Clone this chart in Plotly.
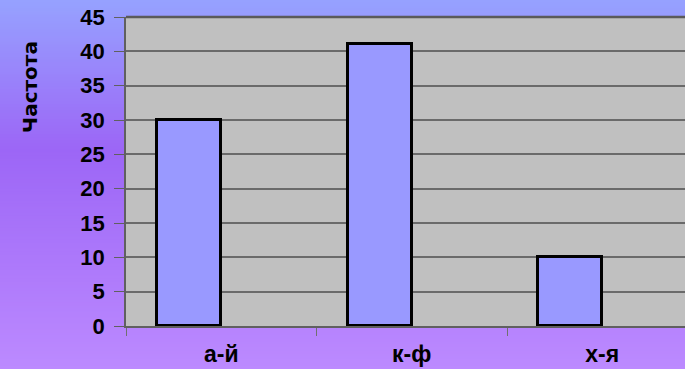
import plotly.graph_objects as go

categories = ["а-й", "к-ф", "х-я"]
values = [30, 41, 10]
y_ticks = [0, 5, 10, 15, 20, 25, 30, 35, 40, 45]
y_title = "Частота"

W, H = 685, 369
L, R, T, B = 126, 0, 17, 43
pw, ph = W - L - R, H - T - B


def px_to_paper_x(x):
    return (x - L) / pw


def px_to_paper_y(y):
    return (H - B - y) / ph


# vertical gradient background (styling)
stops = [(0, (150, 162, 255)), (150, (156, 102, 246)), (369, (188, 138, 255))]


def color_at(y):
    for (y0, c0), (y1, c1) in zip(stops[:-1], stops[1:]):
        if y0 <= y <= y1:
            t = (y - y0) / (y1 - y0)
            return "rgb(%d,%d,%d)" % tuple(round(a + (b - a) * t) for a, b in zip(c0, c1))
    return "rgb(%d,%d,%d)" % stops[-1][1]


shapes = []
step = 3
for y in range(0, H, step):
    shapes.append(dict(type="rect", xref="paper", yref="paper", layer="below",
                       x0=px_to_paper_x(-5), x1=px_to_paper_x(W + 5),
                       y0=px_to_paper_y(y + step + 0.5), y1=px_to_paper_y(y - 0.5),
                       fillcolor=color_at(y + step / 2), line=dict(width=0)))
# plot area
shapes.append(dict(type="rect", xref="paper", yref="paper", layer="below",
                   x0=0, x1=1.01, y0=0, y1=1, fillcolor="#C0C0C0", line=dict(width=0)))
shapes.append(dict(type="line", xref="paper", yref="paper", layer="above",
                   x0=0, x1=1.01, y0=1, y1=1, line=dict(color="#5a5a5a", width=2.5)))

fig = go.Figure()
fig.add_trace(go.Bar(
    x=categories, y=values,
    width=0.336, offset=-0.336,
    marker=dict(color="#9999FF", line=dict(color="#000000", width=3)),
    showlegend=False,
))

fig.update_layout(
    width=W, height=H,
    margin=dict(l=L, r=R, t=T, b=B),
    paper_bgcolor="rgba(0,0,0,0)",
    plot_bgcolor="rgba(0,0,0,0)",
    shapes=shapes,
    bargap=0,
    font=dict(family="Liberation Sans, Arial", color="#000000"),
    xaxis=dict(
        type="category",
        range=[-0.5, -0.5 + pw / 190.5],
        tickson="boundaries",
        ticks="outside", ticklen=8, tickwidth=1, tickcolor="#707070",
        showgrid=False,
        showline=True, linecolor="#606060", linewidth=1.5,
        tickfont=dict(size=23, family="Liberation Sans, Arial", weight="bold"),
        ticklabelstandoff=7,
    ),
    yaxis=dict(
        range=[0, 45],
        tickvals=y_ticks,
        ticks="outside", ticklen=10, tickwidth=1, tickcolor="#606060",
        showgrid=True, gridcolor="#6a6a6a", gridwidth=1.5,
        showline=True, linecolor="#606060", linewidth=1.5,
        zeroline=False,
        tickfont=dict(size=22, family="Liberation Sans, Arial", weight="bold"),
        ticklabelstandoff=5,
    ),
    annotations=[dict(
        text="<b>" + y_title + "</b>", xref="paper", yref="paper",
        x=px_to_paper_x(30), y=px_to_paper_y(87), textangle=-90,
        showarrow=False, xanchor="center", yanchor="middle",
        font=dict(size=20, family="DejaVu Sans", color="#000000"),
    )],
)

fig.write_html("out.html")
